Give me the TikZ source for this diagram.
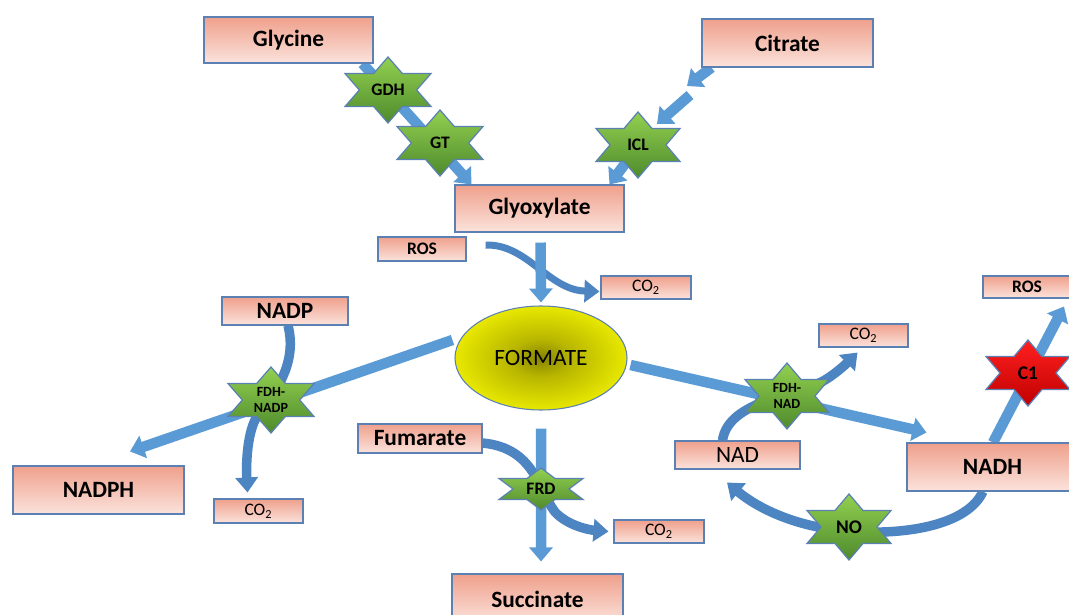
\documentclass[tikz,border=0pt]{standalone}
\usepackage{fontspec}
\setmainfont{Carlito}
\usetikzlibrary{calc,arrows.meta,shapes.geometric}
\definecolor{boxtop}{HTML}{EFA08C}
\definecolor{boxbot}{HTML}{FBE3DC}
\definecolor{boxline}{HTML}{5B80B4}
\definecolor{flowblue}{HTML}{5B9BD5}
\definecolor{cofblue}{HTML}{4D84C2}
\definecolor{leaftop}{HTML}{92D050}
\definecolor{leafbot}{HTML}{4F8A2C}
\definecolor{redtop}{HTML}{FF2020}
\definecolor{redbot}{HTML}{C00000}
\definecolor{formin}{HTML}{878400}
\definecolor{formmid}{HTML}{B8B600}
\definecolor{formout}{HTML}{EEEE00}
\pgfdeclareradialshading{formshade}{\pgfpoint{0bp}{0bp}}{color(0bp)=(formin); color(9bp)=(formmid); color(27bp)=(formout); color(50bp)=(formout)}
\pgfdeclarelayer{arrows}
\pgfdeclarelayer{stars}
\pgfsetlayers{arrows,stars,main}

\begin{document}
\begin{tikzpicture}[x=0.02cm, y=-0.02cm,
  chem/.style 2 args={draw=boxline, line width=0.6pt, top color=boxtop, bottom color=boxbot,
    minimum width=#1*0.02cm, minimum height=#2*0.02cm, inner sep=0pt},
  big/.style={font=\fontsize{13.3}{16}\selectfont\bfseries},
  plain/.style={font=\fontsize{13.3}{16}\selectfont},
  minor/.style={font=\fontsize{10}{12}\selectfont},
  minorb/.style={font=\fontsize{10}{12}\selectfont\bfseries},
  enz/.style={font=\fontsize{10}{12}\selectfont\bfseries, inner sep=0pt},
  enzsmall/.style={font=\fontsize{8}{9}\selectfont\bfseries, align=center, inner sep=0pt},
  formate/.style={ellipse, draw=boxline, line width=0.6pt, shading=formshade,
    minimum width=172*0.02cm, minimum height=104*0.02cm, inner sep=0pt,
    font=\fontsize{13.3}{16}\selectfont},
  flow/.style={draw=flowblue, line width=0.21cm, -{Triangle[length=0.28cm, width=0.46cm]}},
  cof/.style={draw=cofblue, line width=0.19cm, -{Triangle[length=0.3cm, width=0.44cm]}},
  greenstar/.style={draw=boxline, line width=0.7pt, top color=leaftop, bottom color=leafbot},
  redstar/.style={draw=boxline, line width=0.7pt, top color=redtop, bottom color=redbot}]
\useasboundingbox (0,0) rectangle (1069,615);

% metabolites
\node[chem={169}{46}, big] (glycine) at (288.5,40) {Glycine};
\node[chem={171}{48}, big] (citrate) at (787.5,43) {Citrate};
\node[chem={169}{47}, big] (glyoxylate) at (539.5,208.5) {Glyoxylate};
\node[chem={88}{24}, minorb] (rosleft) at (422,249) {ROS};
\node[chem={90}{23}, minor] (co2top) at (646,287.5) {CO\textsubscript{2}};
\node[formate] (formate) at (541,358) {FORMATE};
\node[chem={126}{28}, big] (nadp) at (285,311) {NADP};
\node[chem={171}{48}, big] (nadph) at (98.5,490) {NADPH};
\node[chem={89}{24}, minor] (co2left) at (258.5,511) {CO\textsubscript{2}};
\node[chem={124}{29}, big] (fumarate) at (420,438.5) {Fumarate};
\node[chem={90}{23}, minor] (co2bottom) at (659,531.5) {CO\textsubscript{2}};
\node[chem={171}{50}, big] (succinate) at (537.5,599) {Succinate};
\node[chem={89}{23}, minor] (co2right) at (863.5,335.5) {CO\textsubscript{2}};
\node[chem={88}{22}, minorb] (rosright) at (1027,287) {ROS};
\node[chem={125}{28}, plain] (nad) at (737.5,455) {NAD};
\node[chem={171}{48}, big] (nadh) at (992.5,467) {NADH};

% enzymes
\node[enz] (gdh) at (388,90) {GDH};
\node[enz] (gt) at (440,143) {GT};
\node[enz] (icl) at (638,145) {ICL};
\node[enzsmall] (fdhnadp) at (271,400) {FDH-\\NADP};
\node[enzsmall] (fdhnad) at (787,396) {FDH-\\NAD};
\node[enz] (frd) at (541,489) {FRD};
\node[enz, font=\fontsize{11}{12}\selectfont\bfseries] (no) at (849,527) {NO};
\node[enz, font=\fontsize{11}{12}\selectfont\bfseries] (cone) at (1028,373) {C1};

\begin{pgfonlayer}{stars}
\foreach \nm/\hw/\hh/\sty in {gdh/43/33/greenstar, gt/43/33/greenstar, icl/42/33/greenstar,
    fdhnadp/43/33/greenstar, fdhnad/42/33/greenstar, frd/42/21/greenstar,
    no/42/33/greenstar, cone/42/33/redstar}
  \draw[\sty, shift={(\nm.center)}, xscale=\hw/3, yscale=\hh/3]
    (0,-3) -- (1,-1.5) -- (3,-1.5) -- (2,0) -- (3,1.5) -- (1,1.5) -- (0,3)
    -- (-1,1.5) -- (-3,1.5) -- (-2,0) -- (-3,-1.5) -- (-1,-1.5) -- cycle;
\end{pgfonlayer}

\begin{pgfonlayer}{arrows}
\fill[white] (0,0) rectangle (1069,615);
% into glyoxylate
\draw[flow] ($(glycine.south east)+(-11,0)$) -- ($(glyoxylate.north west)+(17,0)$);
\coordinate (cit1) at (687,86);
\coordinate (cit2) at (690,95);
\coordinate (cit3) at (657,124);
\draw[flow] ($(citrate.south west)+(10,0)$) -- (cit1);
\draw[flow] (cit2) -- (cit3);
\draw[flow] ($(icl.center)+(4,-4)$) -- ($(glyoxylate.north east)+(-15,0)$);
% glyoxylate to formate
\draw[cof, line width=0.14cm] ($(rosleft.east)+(19,-4)$) .. controls (528,244) and (548,290) .. ($(co2top.west)+(-1,4)$);
\draw[flow] ($(glyoxylate.south)+(1,10)$) -- ($(formate.north)+(0,-3)$);
% NADP side
\draw[cof] ($(nadp.south)+(3,0)$) .. controls (298,365) and (273,395) .. (258,415)
  .. controls (247,430) and (246,465) .. ($(co2left.north)+(-11,-6)$);
\draw[flow] ($(formate.west)+(-2,-18)$) -- ($(nadph.north)+(31.5,-14)$);
% NAD side
\draw[cof] ($(nad.north)+(-15,0)$) .. controls (728,400) and (800,395) .. (825,380)
  .. controls (838,372) and (848,362) .. ($(co2right.south)+(-6,5)$);
\draw[flow] ($(formate.east)+(3,7)$) -- ($(nadh.north west)+(20,-10)$);
\draw[flow] ($(nadh.north)+(0.5,0)$) -- ($(rosright.south)+(37,8)$);
\draw[cof] ($(nadh.south)+(-9.5,0)$) .. controls (965,530) and (890,535) .. (849,531)
  .. controls (800,528) and (760,510) .. ($(nad.south)+(-10.5,13)$);
% fumarate to succinate
\draw[cof] ($(fumarate.east)+(0,4.5)$) .. controls (535,448) and (538,490) .. (555,512)
  .. controls (568,526) and (590,530) .. ($(co2bottom.west)+(-5,0)$);
\draw[flow] ($(formate.south)+(0,18)$) -- ($(succinate.north)+(3.5,-12)$);
\end{pgfonlayer}
\end{tikzpicture}
\end{document}
